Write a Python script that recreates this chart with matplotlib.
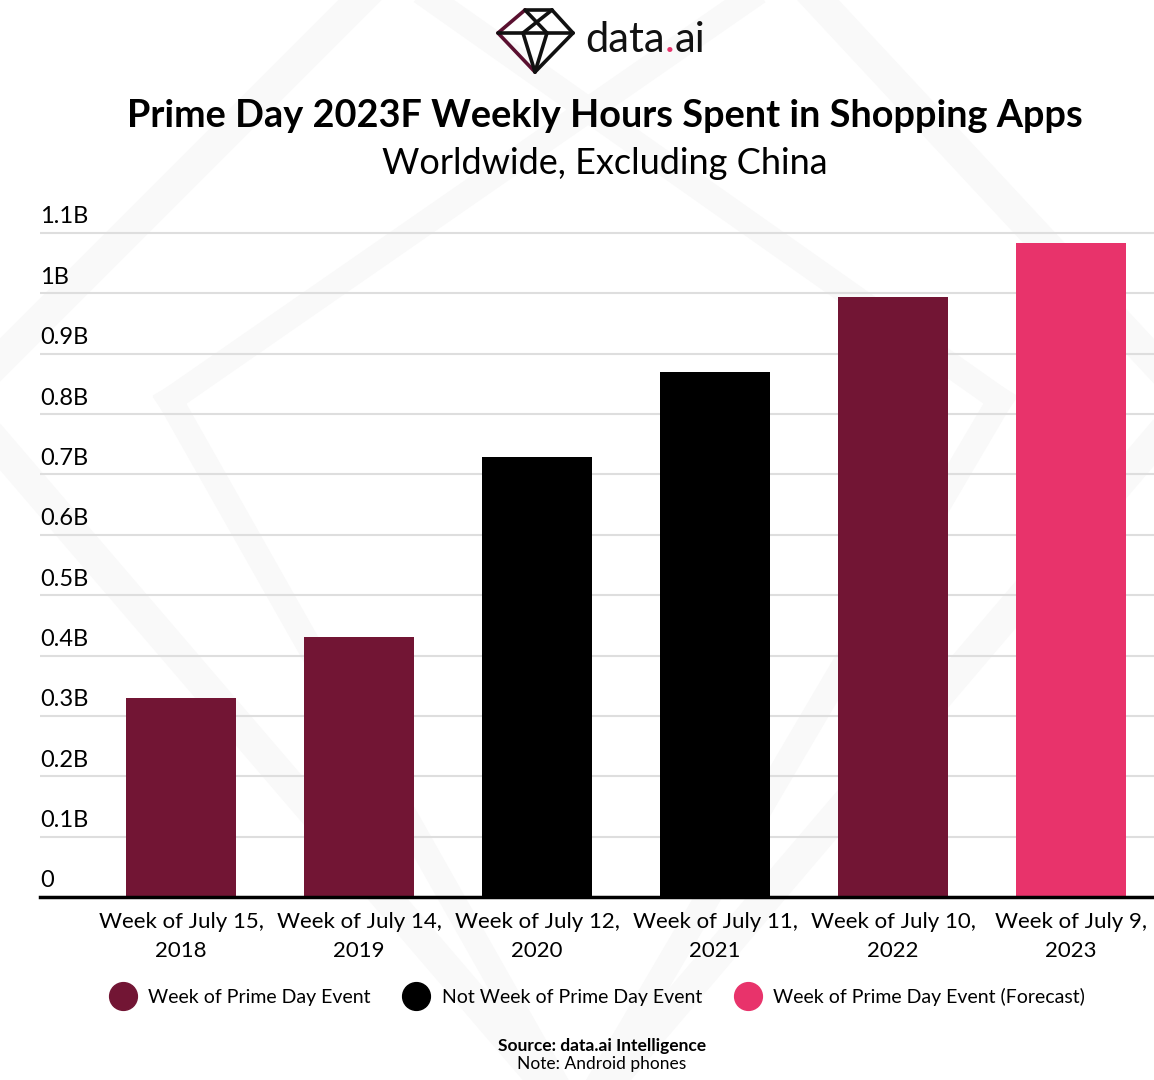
import matplotlib
matplotlib.use("Agg")
import matplotlib.pyplot as plt
from matplotlib.lines import Line2D
from matplotlib.transforms import blended_transform_factory, offset_copy

plt.rcParams['font.family'] = ['Lato', 'DejaVu Sans']

# ---------------- data ----------------
categories = ["Week of July 15,\n2018", "Week of July 14,\n2019", "Week of July 12,\n2020",
              "Week of July 11,\n2021", "Week of July 10,\n2022", "Week of July 9,\n2023"]
values = [0.33, 0.43, 0.729, 0.87, 0.994, 1.083]          # billions of hours
groups = ["event", "event", "not", "not", "event", "forecast"]
group_labels = {"event": "Week of Prime Day Event",
                "not": "Not Week of Prime Day Event",
                "forecast": "Week of Prime Day Event (Forecast)"}
group_colors = {"event": "#721534", "not": "#000000", "forecast": "#e8336b"}
yticks = [0, 0.1, 0.2, 0.3, 0.4, 0.5, 0.6, 0.7, 0.8, 0.9, 1.0, 1.1]
ytick_labels = ["0", "0.1B", "0.2B", "0.3B", "0.4B", "0.5B", "0.6B", "0.7B", "0.8B", "0.9B", "1B", "1.1B"]

title = "Prime Day 2023F Weekly Hours Spent in Shopping Apps"
subtitle = "Worldwide, Excluding China"
source = "Source: data.ai Intelligence"
note = "Note: Android phones"

W, H = 1154, 1080
fig = plt.figure(figsize=(W / 100, H / 100), dpi=100)
fig.patch.set_facecolor("white")
renderer = fig.canvas.get_renderer()

# ---------------- background watermark + logo (pixel coords) ----------------
bg = fig.add_axes([0, 0, 1, 1], zorder=-5)
bg.set_xlim(0, W)
bg.set_ylim(H, 0)
bg.axis("off")
wm = "#f9f9f9"
outer = [(390, -30), (790, -30), (1190, 400), (577, 1120), (-40, 400), (390, -30)]
bg.plot([p[0] for p in outer], [p[1] for p in outer], color=wm, lw=22, solid_joinstyle="miter", zorder=0)
bg.plot([390, 1000], [-30, 400], color=wm, lw=18, zorder=0)
bg.plot([790, 170], [-30, 400], color=wm, lw=18, zorder=0)
bg.plot([170, 577], [400, 1120], color=wm, lw=18, zorder=0)
bg.plot([1000, 577], [400, 1120], color=wm, lw=18, zorder=0)

# logo gem
segs = [((525, 10), (552, 10)), ((552, 10), (573, 33)), ((573, 33), (535, 72)),
        ((535, 72), (498, 33)), ((498, 33), (525, 10)), ((498, 33), (573, 33)),
        ((525, 10), (547, 33)), ((552, 10), (523, 33)), ((523, 33), (535, 72)),
        ((547, 33), (535, 72))]
for (a, b) in segs:
    midx = (a[0] + b[0]) / 2
    col = "#c8285e" if midx < 508 else ("#5a1030" if midx < 520 else "#111111")
    bg.plot([a[0], b[0]], [a[1], b[1]], color=col, lw=2.6, solid_capstyle="round", zorder=2)

# "data.ai" wordmark with pink dot
x0 = 585 / W
yc = 1 - 40 / H
parts = [("data", "#111111"), (".", "#e8336b"), ("ai", "#111111")]
for txt, col in parts:
    t = fig.text(x0, yc, txt, fontsize=30, va="center", ha="left", color=col)
    ext = t.get_window_extent(renderer=renderer)
    x0 = ext.x1 / W

# ---------------- titles ----------------
fig.text(605 / W, 1 - 116 / H, title, ha="center", va="center", fontsize=27.3, fontweight="bold", color="black")
fig.text(605 / W, 1 - 164 / H, subtitle, ha="center", va="center", fontsize=26, color="black")

# ---------------- main axes ----------------
ymax = 1.12
ax_left = 40 / W
ax_bottom = 1 - 897 / H
top_px = 897 - (897 - 233) * ymax / 1.1
ax = fig.add_axes([ax_left, ax_bottom, 1 - ax_left, (897 - top_px) / H])
ax.set_facecolor("none")

x = list(range(len(categories)))
colors = [group_colors[g] for g in groups]
ax.bar(x, values, width=0.62, color=colors, zorder=3)
ax.set_xlim(-0.792, 5.466)
ax.set_ylim(0, ymax)

for s in ["top", "right", "left"]:
    ax.spines[s].set_visible(False)
ax.spines["bottom"].set_linewidth(2.5)
ax.spines["bottom"].set_color("black")
ax.spines["bottom"].set_zorder(4)

ax.set_yticks(yticks)
ax.set_yticklabels([])
ax.tick_params(axis="y", length=0)
ax.grid(axis="y", color="#dedede", lw=1.5, zorder=0)

trans = offset_copy(blended_transform_factory(ax.transAxes, ax.transData), fig=fig, x=0, y=4, units="points")
for v, lab in zip(yticks, ytick_labels):
    ax.text(0, v, lab, transform=trans, ha="left", va="bottom", fontsize=17, color="black")

ax.set_xticks(x)
ax.set_xticklabels(categories, fontsize=16, linespacing=1.55)
ax.tick_params(axis="x", length=0, pad=11)

# ---------------- legend ----------------
order = ["event", "not", "forecast"]
handles = [Line2D([], [], marker="o", ls="none", markersize=20, markerfacecolor=group_colors[g],
                  markeredgecolor=group_colors[g]) for g in order]
fig.legend(handles, [group_labels[g] for g in order], loc="center", bbox_to_anchor=(598 / W, 1 - 997 / H),
           ncol=3, frameon=False, fontsize=14, handlelength=1.2, handletextpad=0.7, columnspacing=1.75)

fig.text(602 / W, 1 - 1046 / H, source, ha="center", va="center", fontsize=12.5, fontweight="bold")
fig.text(602 / W, 1 - 1064 / H, note, ha="center", va="center", fontsize=12.5)

fig.savefig("out.png", dpi=100, facecolor="white")
